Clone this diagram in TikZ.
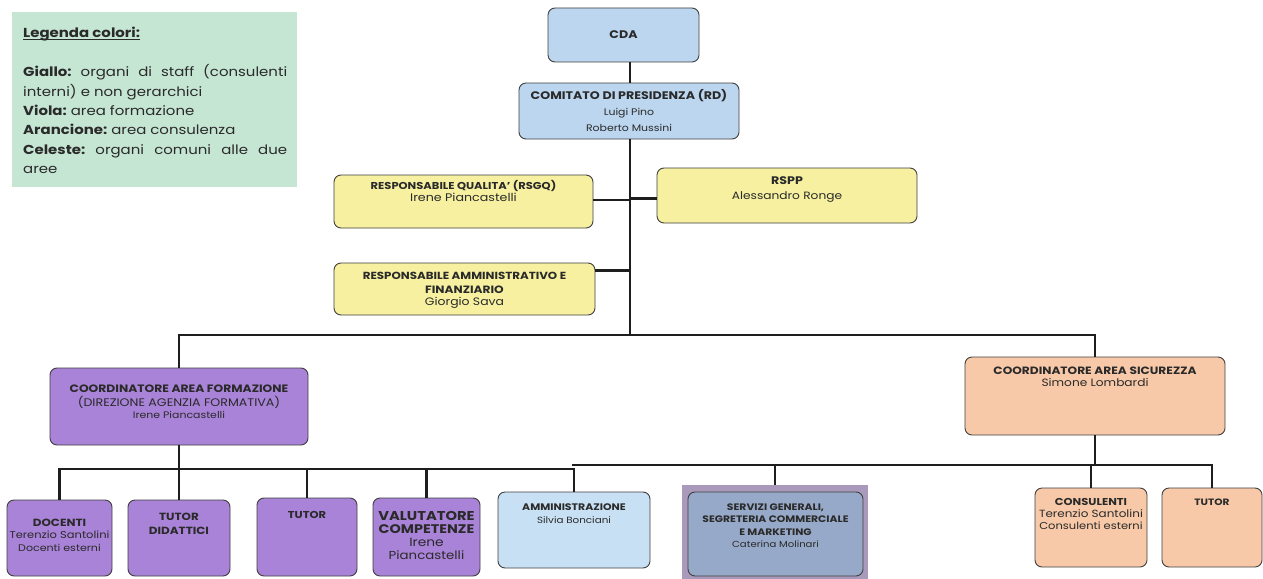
\documentclass[tikz,border=0pt]{standalone}
\usepackage{fontspec}
\setmainfont{Poppins}[FakeStretch=1.15]
\usetikzlibrary{calc}
\definecolor{cyel}{HTML}{F6F0A0}
\definecolor{cblu}{HTML}{BBD6EE}
\definecolor{cvio}{HTML}{A983D8}
\definecolor{cora}{HTML}{F8C9A8}
\definecolor{clblu}{HTML}{C8E0F3}
\definecolor{cgray}{HTML}{97A9C8}
\definecolor{cmauve}{HTML}{A999BA}
\definecolor{cleg}{HTML}{C6E6D4}
\definecolor{cline}{HTML}{1E1E1E}
\definecolor{ctext}{HTML}{2A2A2A}
\newcommand\Bf[1]{\fontsize{#1}{12}\selectfont\bfseries}
\newcommand\Rf[1]{\fontsize{#1}{12}\selectfont\mdseries}
\newcommand\Ls[1]{\fontsize{10}{#1}\selectfont}
\begin{document}
\begin{tikzpicture}[x=1pt,y=-1pt,
  box/.style={draw=black!75, line width=0.9pt, rounded corners=7pt, inner sep=0pt, align=center, text=ctext},
  lbl/.style={anchor=north, align=center, inner sep=0pt, text=ctext},
  conn/.style={draw=cline, line width=2.8pt},
  legfont/.style={font=\fontsize{13}{19.3}\selectfont\frenchspacing},
]
\useasboundingbox (0,0) rectangle (1263,578);
\fill[white] (0,0) rectangle (1263,578);

% legend
\node[anchor=north west, fill=cleg, minimum width=285, minimum height=175, inner sep=0pt] (leg) at (12,12) {};
\node[anchor=north west, inner sep=0pt, text=ctext, legfont] (legh) at (23,27) {\textbf{Legenda colori:}};
\draw[ctext, line width=0.9pt] ([yshift=-1.8pt]legh.base west) -- ([yshift=-1.8pt]legh.base east);
\node[anchor=north west, inner sep=0pt, align=left, text=ctext, legfont] (legt) at (23,64.5)
 {\makebox[264pt][s]{\textbf{Giallo:} organi di staff (consulenti}\\
  interni) e non gerarchici\\
  \textbf{Viola:} area formazione\\
  \textbf{Arancione:} area consulenza\\
  \makebox[264pt][s]{\textbf{Celeste:} organi comuni alle due}\\
  aree};

% spine and buses
\coordinate (spine) at (630,0);
\coordinate (mbus) at (630,335);
\coordinate (fbus) at (0,469);
\coordinate (sbus) at (0,465);
\coordinate (sbw) at (572,465);

% top
\node[box, fill=cblu, minimum width=151, minimum height=54, font=\Ls{15}] (cda) at (623.5,35) {\Bf{11}CDA};
\node[box, fill=cblu, minimum width=220, minimum height=56, font=\Ls{16}] (com) at (629,111)
  {\Bf{11}COMITATO DI PRESIDENZA (RD)\\ \Rf{9.5}Luigi Pino\\ \Rf{9.5}Roberto Mussini};

% staff
\node[box, fill=cyel, minimum width=259, minimum height=53,
  label={[lbl, yshift=-6pt, font=\Ls{11.5}]north:{\Bf{10}RESPONSABILE QUALITA' (RSGQ)\\ \Rf{11}Irene Piancastelli}}] (rsgq) at (463.5,201.5) {};
\node[box, fill=cyel, minimum width=260, minimum height=55,
  label={[lbl, yshift=-9pt, font=\Ls{15}]north:{\Bf{11}RSPP\\ \Rf{10.6}Alessandro Ronge}}] (rspp) at (787,195.5) {};
\node[box, fill=cyel, minimum width=261, minimum height=52,
  label={[lbl, yshift=-9pt, font=\Ls{14}]north:{\Bf{10.3}RESPONSABILE AMMINISTRATIVO E\\ \Bf{10.6}FINANZIARIO\\[-2pt] \Rf{10.8}Giorgio Sava}}] (rsaf) at (464.5,289) {};

% coordinators
\node[box, fill=cvio, minimum width=258, minimum height=77,
  label={[lbl, yshift=-17pt, font=\Ls{14}]north:{\Bf{10.7}COORDINATORE AREA FORMAZIONE\\ \Rf{11}(DIREZIONE AGENZIA FORMATIVA)\\[-1.5pt] \Rf{9.5}Irene Piancastelli}}] (cf) at (179,406.5) {};
\node[box, fill=cora, minimum width=260, minimum height=78,
  label={[lbl, yshift=-10pt, font=\Ls{12.5}]north:{\Bf{10.6}COORDINATORE AREA SICUREZZA\\ \Rf{10.6}Simone Lombardi}}] (cs) at (1095,396) {};

% bottom row
\node[box, fill=cvio, minimum width=105, minimum height=76,
  label={[lbl, yshift=-19pt, font=\Ls{12.5}]north:{\Bf{10.4}DOCENTI\\ \Rf{10}Terenzio Santolini\\ \Rf{9.6}Docenti esterni}}] (doc) at (59.5,538) {};
\node[box, fill=cvio, minimum width=102, minimum height=76,
  label={[lbl, yshift=-13pt, font=\Ls{14}]north:{\Bf{10.4}TUTOR\\ \Bf{10.4}DIDATTICI}}] (tutd) at (179,538) {};
\node[box, fill=cvio, minimum width=100, minimum height=78,
  label={[lbl, yshift=-14pt]north:{\Bf{10}TUTOR}}] (tut) at (307,537) {};
\node[box, fill=cvio, minimum width=107, minimum height=78,
  label={[lbl, yshift=-14pt, font=\Ls{13}]north:{\Bf{12.8}VALUTATORE\\ \Bf{12.5}COMPETENZE\\ \Rf{12}Irene\\ \Rf{11.6}Piancastelli}}] (val) at (426.5,537) {};
\node[box, fill=clblu, minimum width=152, minimum height=76,
  label={[lbl, yshift=-12pt, font=\Ls{12.5}]north:{\Bf{9.5}AMMINISTRAZIONE\\ \Rf{9}Silvia Bonciani}}] (amm) at (574,530) {};
\node[fill=cmauve, minimum width=186, minimum height=105, inner sep=0pt] (srvf) at (775,537.5) {};
\node[box, fill=cgray, minimum width=175, minimum height=84,
  label={[lbl, yshift=-12pt, font=\Ls{12.5}]north:{\Bf{9.4}SERVIZI GENERALI,\\ \Bf{9.4}SEGRETERIA COMMERCIALE\\ \Bf{9.4}E MARKETING\\ \Rf{8.8}Caterina Molinari}}] (srv) at (775.5,534) {};
\node[box, fill=cora, minimum width=112, minimum height=79,
  label={[lbl, yshift=-11pt, font=\Ls{12}]north:{\Bf{10}CONSULENTI\\ \Rf{10.4}Terenzio Santolini\\ \Rf{10}Consulenti esterni}}] (cons) at (1091,527.5) {};
\node[box, fill=cora, minimum width=100, minimum height=79,
  label={[lbl, yshift=-11pt]north:{\Bf{9.2}TUTOR}}] (tutr) at (1212,527.5) {};

% connectors
\draw[conn] (cda.south -| spine) -- (com.north -| spine);
\draw[conn] (com.south -| spine) -- (mbus);
\draw[conn] ([yshift=1.5pt]rsgq.east) -- ([yshift=1.5pt]rsgq.east -| spine);
\draw[conn] ([yshift=-3pt]rspp.west) -- ([yshift=-3pt]rspp.west -| spine);
\draw[conn] ([yshift=-8pt]rsaf.north east) -- ([yshift=-8pt]rsaf.north east -| spine);
\draw[conn] (cf.north) -- (cf.north |- mbus) -- (cs.north |- mbus) -- (cs.north);
% formazione bus
\draw[conn] (cf.south) -- (tutd.north);
\draw[conn] (doc.north) -- (doc.north |- fbus) -- (amm.north |- fbus) -- (amm.north);
\draw[conn] (tut.north) -- (tut.north |- fbus);
\draw[conn] (val.north) -- (val.north |- fbus);
% sicurezza bus
\draw[conn] (cs.south) -- (cs.south |- sbus);
\draw[conn] (sbw) -- (tutr.north |- sbus) -- (tutr.north);
\draw[conn] (srvf.north) -- (srvf.north |- sbus);
\draw[conn] (cons.north) -- (cons.north |- sbus);
\end{tikzpicture}
\end{document}
